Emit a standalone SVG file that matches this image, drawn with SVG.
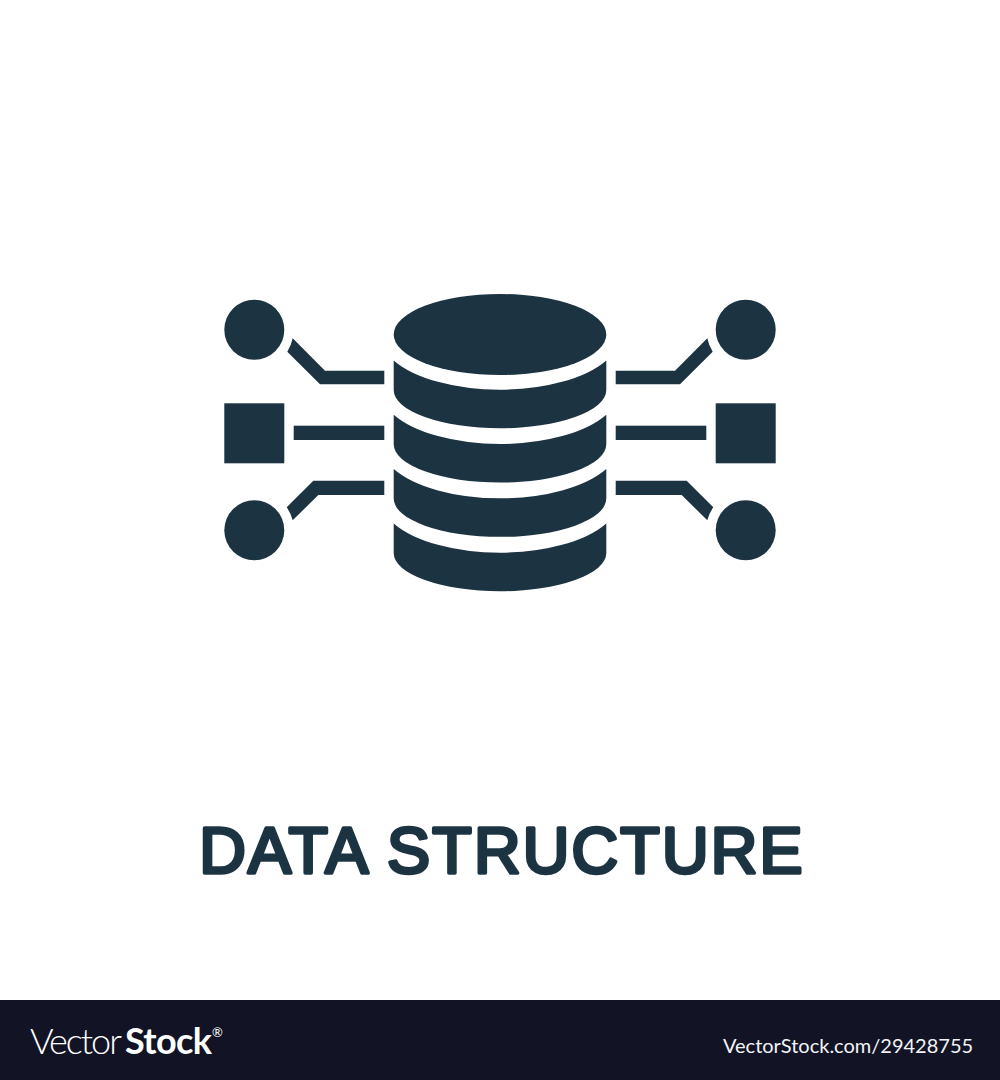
<svg xmlns="http://www.w3.org/2000/svg" xmlns:xlink="http://www.w3.org/1999/xlink" width="1000" height="1080" viewBox="0 0 1000 1080">
<style>
.ink{fill:#1c3342}
.title{font-family:"Liberation Sans",Arial,sans-serif;font-weight:400;font-size:64.5px;fill:#1c3342;stroke:#1c3342;stroke-width:3.6;stroke-linejoin:round;stroke-linecap:round;letter-spacing:2.2px}
.brand{font-family:Lato,"Open Sans",sans-serif;fill:#fff;font-size:36px}
.ref{font-family:Lato,"Open Sans",sans-serif;fill:#f2f3f7;font-size:20px}
</style>
<defs>
<path id="band" d="M393.7 360.4A120 54.7 0 0 0 606.3 360.4V390A106.3 38.3 0 0 1 393.7 390Z"/>
</defs>
<rect width="1000" height="1080" fill="#fff"/>
<g id="connectors" class="ink">
<g id="left-connectors">
<path d="M292.7 338.3L325 370.7H384.3V384.3H320L287.3 351.7A39.5 39.5 0 0 0 292.7 338.3Z"/>
<rect x="293.7" y="425.7" width="90.6" height="14.3"/>
<path d="M286.7 507.3L313.3 480.7H384.3V495H318.3L292.7 520.3A39.7 39.7 0 0 0 286.7 507.3Z"/>
</g>
<g id="right-connectors" transform="matrix(-1 0 0 1 1000 0)">
<path d="M292.7 338.3L325 370.7H384.3V384.3H320L287.3 351.7A39.5 39.5 0 0 0 292.7 338.3Z"/>
<rect x="293.7" y="425.7" width="90.6" height="14.3"/>
<path d="M286.7 507.3L313.3 480.7H384.3V495H318.3L292.7 520.3A39.7 39.7 0 0 0 286.7 507.3Z"/>
</g>
</g>
<g id="node-top-left" class="ink"><circle cx="254.3" cy="329.7" r="30"/></g>
<g id="node-mid-left" class="ink"><rect x="224.3" y="403.3" width="60" height="60"/></g>
<g id="node-bottom-left" class="ink"><circle cx="254.3" cy="530.3" r="30"/></g>
<g id="node-top-right" class="ink"><circle cx="745.7" cy="329.7" r="30"/></g>
<g id="node-mid-right" class="ink"><rect x="715.7" y="403.3" width="60" height="60"/></g>
<g id="node-bottom-right" class="ink"><circle cx="745.7" cy="530.3" r="30"/></g>
<g id="database" class="ink">
<ellipse cx="500" cy="334.5" rx="106.3" ry="40.5"/>
<use xlink:href="#band" href="#band"/>
<use xlink:href="#band" href="#band" y="54.3"/>
<use xlink:href="#band" href="#band" y="108.6"/>
<use xlink:href="#band" href="#band" y="163"/>
</g>
<text class="title" x="502" y="873" text-anchor="middle">DATA STRUCTURE</text>
<g id="footer">
<rect y="1000" width="1000" height="80" fill="#121426"/>
<text class="brand" x="30" y="1054"><tspan font-weight="300" letter-spacing="-2">Vector</tspan><tspan x="125" font-weight="700" letter-spacing="-0.6">Stock</tspan></text>
<text x="212" y="1037" font-family="Lato,'Open Sans',sans-serif" font-size="13" fill="#fff">®</text>
<text class="ref" x="723" y="1053">VectorStock.com/29428755</text>
</g>
</svg>
